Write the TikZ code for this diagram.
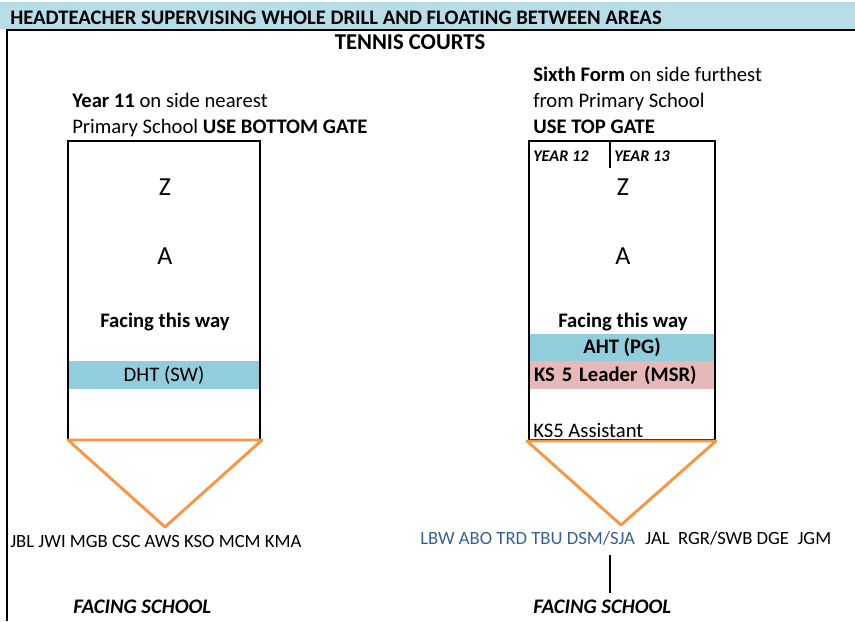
\documentclass[tikz,border=0pt]{standalone}
\usepackage{fontspec}
\setmainfont{Carlito}
\usepackage{tikz}
\usetikzlibrary{positioning}
\definecolor{headblue}{HTML}{B7DEE8}
\definecolor{aqua}{HTML}{92CDDC}
\definecolor{rose}{HTML}{E6B8B7}
\definecolor{gateorange}{HTML}{F79646}
\definecolor{staffblue}{HTML}{376092}
\tikzstyle{lbl} = [anchor=base west, inner sep=0pt]
\tikzstyle{mid} = [anchor=base, inner sep=0pt]
\tikzstyle{band} = [inner sep=0pt, minimum height=20.5pt]
\tikzstyle{court} = [draw, line width=1.2pt]
\tikzstyle{gate} = [draw=gateorange, line width=2.2pt, line join=round]
\tikzstyle{big} = [font=\fontsize{19.5}{22}\selectfont]
\tikzstyle{staff} = [font=\fontsize{14}{16}\selectfont]
\tikzstyle{year} = [font=\fontsize{12.2}{14}\selectfont]

\begin{document}
\begin{tikzpicture}[x=0.75pt, y=-0.75pt, every node/.style={font=\fontsize{15.5}{18}\selectfont}]
  \useasboundingbox (0,0) rectangle (855,621);
  % Header and border
  \fill[headblue] (0,2) rectangle (855,29);
  \node [lbl] (head) at (10,24) {\textbf{HEADTEACHER SUPERVISING WHOLE DRILL AND FLOATING BETWEEN AREAS}};
  \draw [line width=1.5pt] (7,621) -- (7,30) -- (855,30);
  \node [mid, font=\fontsize{17}{20}\selectfont] (courts) at (410,49) {\textbf{TENNIS COURTS}};
  % Year 11 side
  \node [lbl] (yearA) at (72,107) {\textbf{Year 11} on side nearest};
  \node [lbl] (yearB) at (72,133) {Primary School \textbf{USE BOTTOM GATE}};
  \node [band, fill=aqua, minimum width=142.5pt] (dht) at (164,375) {DHT (SW)};
  \draw [court] (68,141) rectangle (260,440);
  \node [mid, big] (zL) at (165,195) {Z};
  \node [mid, big] (aL) at (165,264) {A};
  \node [mid] (faceL) at (165,327) {\textbf{Facing this way}};
  \draw [gate] (68,440) -- (262,440) -- (165,527) -- cycle;
  \node [lbl, staff] (namesL) at (10,547) {JBL JWI MGB CSC AWS KSO MCM KMA};
  \node [lbl] (schoolL) at (73,613) {\textbf{\textit{FACING SCHOOL}}};
  % Sixth Form side
  \node [lbl] (sixthA) at (533,81) {\textbf{Sixth Form} on side furthest};
  \node [lbl] (sixthB) at (533,107) {from Primary School};
  \node [lbl] (sixthC) at (533,133) {\textbf{USE TOP GATE}};
  \node [band, fill=aqua, minimum width=138pt] (aht) at (622,347.5) {\textbf{AHT (PG)}};
  \node [band, fill=rose, minimum width=138pt, text width=132pt, align=left] (ksl) at (622,375) {\textbf{KS 5 Leader (MSR)}};
  \draw [court] (529,141) rectangle (715,440);
  \draw [court] (610,141) -- (610,168);
  \node [lbl, year] (y12) at (533,161) {\textbf{\textit{YEAR 12}}};
  \node [lbl, year] (y13) at (614,161) {\textbf{\textit{YEAR 13}}};
  \node [mid, big] (zR) at (623,195) {Z};
  \node [mid, big] (aR) at (623,264) {A};
  \node [mid] (faceR) at (623,327) {\textbf{Facing this way}};
  \node [lbl] (ksa) at (533,437) {KS5 Assistant};
  \draw [gate] (527,441) -- (716,441) -- (621,525) -- cycle;
  \node [lbl, staff, text=staffblue] (namesR) at (420,544) {LBW ABO TRD TBU DSM/SJA};
  \node [lbl, staff] (namesS) at ([xshift=7.5pt]namesR.base east) {JAL\ \ RGR/SWB DGE\ \ JGM};
  \node [lbl] (schoolR) at (533,613) {\textbf{\textit{FACING SCHOOL}}};
  % Link names to facing school
  \coordinate (stemtop) at (610,555);
  \coordinate (stembot) at (610,593);
  \draw [court] (stemtop) -- (stembot);
\end{tikzpicture}
\end{document}
